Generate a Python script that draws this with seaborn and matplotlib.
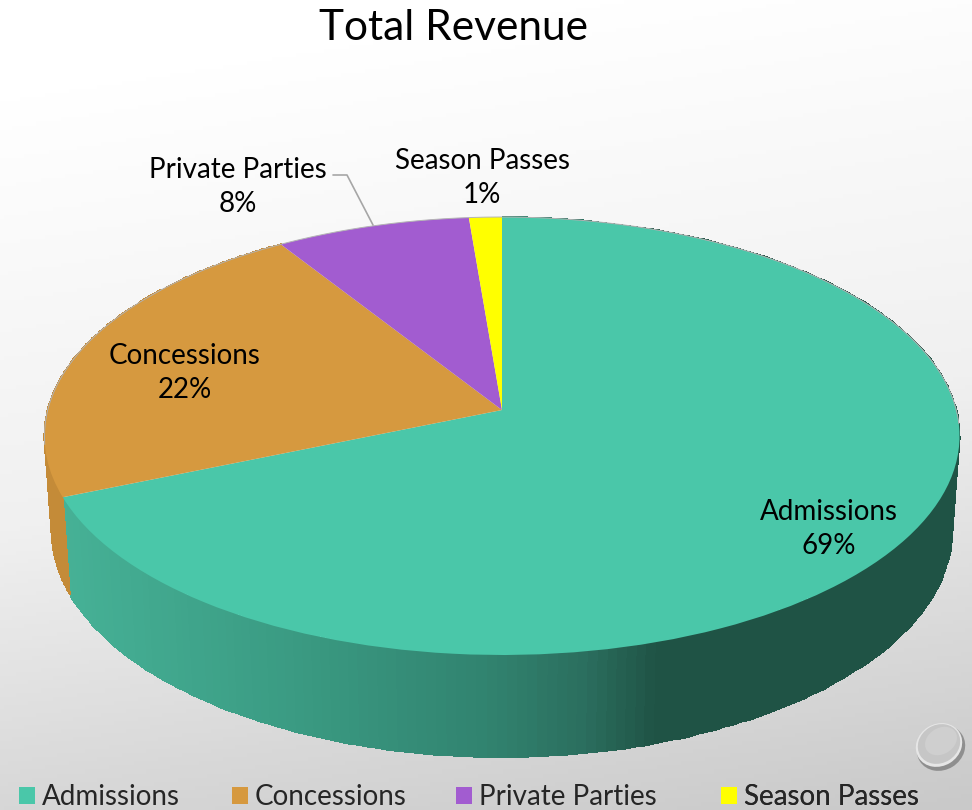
import numpy as np
import matplotlib
matplotlib.use("Agg")
import matplotlib.pyplot as plt
from matplotlib.colors import LinearSegmentedColormap
from matplotlib.patches import Ellipse, Patch
from matplotlib.transforms import Transform
import seaborn as sns

categories = ["Admissions", "Concessions", "Private Parties", "Season Passes"]
values = [68.7, 22.3, 7.7, 1.3]
colors = ["#4AC7A9", "#D6993F", "#A25CD0", "#FFFF00"]
title = "Total Revenue"
label_centers = [(829, 529), (185, 373), (238, 187), (482, 178)]
legend_lefts = [19, 232, 456, 721]

FONT = "Lato"
sns.set_theme(style="white")
plt.rcParams["font.family"] = [FONT, "DejaVu Sans"]

W, H = 972, 810
K = 0.1187
TOP = dict(a=454.3, b=215.9, x0=502.0, y0=410.0)
BASE = dict(a=447.0, b=223.0, x0=502.0, y0=504.0)


def project(u, v, a, b, x0, y0):
    w = 1 + K * v
    return x0 + a * u / w, y0 - b * v / w


class Tilt(Transform):
    input_dims = output_dims = 2

    def __init__(self, **geom):
        super().__init__()
        self.geom = geom

    def transform_non_affine(self, values):
        values = np.asarray(values, dtype=float)
        x, y = project(values[:, 0], values[:, 1], **self.geom)
        return np.column_stack([x, y])


fig = plt.figure(figsize=(W / 100, H / 100), dpi=100)
ax = fig.add_axes([0, 0, 1, 1])

# background gradient
yy, xx = np.mgrid[0:1:200j, 0:1:240j]
shade = np.clip(0.18 * xx + 0.82 * (yy - 0.12) / 0.88, 0, 1)
bg = LinearSegmentedColormap.from_list("bg", ["#FFFFFF", "#F0F0F0", "#C9C9C9"])
ax.imshow(shade, cmap=bg, extent=(0, W, H, 0), aspect="auto", zorder=0, vmin=0, vmax=1)

# top surface through the pie routine, tilted by a projective transform
wedges, _ = ax.pie(values, colors=colors, startangle=90, counterclock=False, radius=1,
                   wedgeprops=dict(linewidth=0, zorder=5))
tilt = Tilt(**TOP)
for w_ in wedges:
    w_.set_transform(tilt + ax.transData)

ax.set_aspect("auto")
ax.set_xlim(0, W)
ax.set_ylim(H, 0)
ax.axis("off")

# side wall
edges = np.concatenate([[0], np.cumsum(values)]) / np.sum(values) * 2 * np.pi
wall_cmap = LinearSegmentedColormap.from_list(
    "wall",
    [(0.0, "#46B196"), (0.28, "#3A9A82"), (0.5, "#31836F"), (0.62, "#2B6E5E"),
     (0.70, "#1F5345"), (1.0, "#1F5345")],
)


def wall(t0, t1, **kw):
    t = np.linspace(t0, t1, 220)
    u, v = np.sin(t), np.cos(t)
    xa, ya = project(u, v, **TOP)
    xb, yb = project(u, v, **BASE)
    X = np.vstack([xa, xb])
    Y = np.vstack([ya, yb])
    C = ((xa[:-1] + xa[1:]) / 2 - 60) / 850
    C = C[np.newaxis, :]
    ax.pcolormesh(X, Y, C, shading="flat", zorder=3, edgecolor="face", linewidth=0.3,
                  vmin=0, vmax=1, **kw)


wall(edges[0], edges[1], cmap=wall_cmap)
wall(edges[1], edges[2], cmap=LinearSegmentedColormap.from_list("c", ["#C48B38", "#C48B38"]))

# thin rim on the far edge
t = np.linspace(np.pi * 1.45, np.pi * 2.52, 300)
rx, ry = project(np.sin(t), np.cos(t), **TOP)
ax.plot(rx, ry, color="#B4B4B4", lw=0.7, zorder=6)

# data labels
for name, val, (cx, cy) in zip(categories, values, label_centers):
    ax.text(cx, cy, f"{name}\n{round(val)}%", ha="center", va="center", fontsize=20,
            color="black", linespacing=1.38, zorder=8)

# leader line
ax.plot([333, 347, 373], [175, 175, 225], color="#A6A6A6", lw=1.2, zorder=7)

# title
ax.text(453, 28, title, ha="center", va="center", fontsize=30.5, color="black", zorder=8)

# glass knob
ax.add_patch(Ellipse((941, 748), 50, 44, angle=-32, fc="#000000", alpha=0.30, lw=0, zorder=6))
ax.add_patch(Ellipse((939, 745), 48, 42, angle=-32, fc="#E6E6E6", lw=0, zorder=7))
ax.add_patch(Ellipse((939, 744), 44, 38, angle=-32, fc="#C6C6C6", lw=0, zorder=7))
ax.add_patch(Ellipse((941, 741), 34, 26, angle=-32, fc="#CFCFCF", lw=0, zorder=7))

# legend: one entry per anchor so each swatch sits at its own place
for name, col, left in zip(categories, colors, legend_lefts):
    leg = ax.legend([Patch(facecolor=col, edgecolor="none")], [name], frameon=False,
                    loc="lower left", bbox_to_anchor=(left / W, 0 / H), fontsize=20,
                    borderpad=0, borderaxespad=0, handlelength=0.576, handleheight=0.576,
                    handletextpad=0.25)
    ax.add_artist(leg)

fig.savefig("out.png", dpi=100)
